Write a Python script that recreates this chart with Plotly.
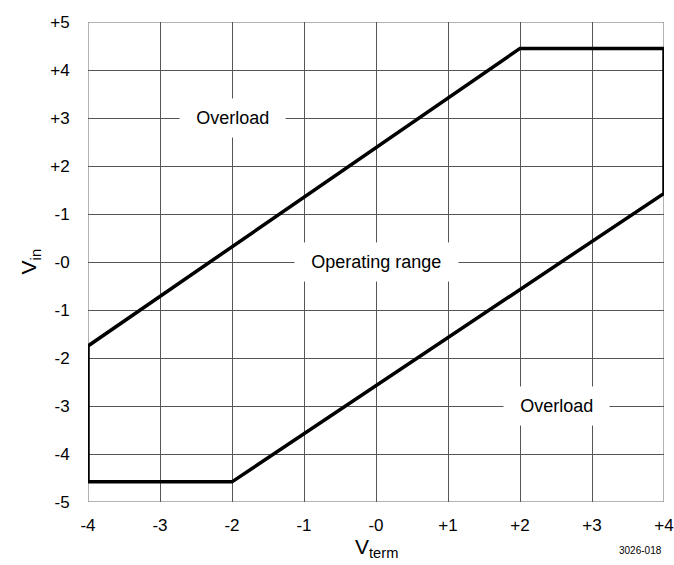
import plotly.graph_objects as go

# Operating-range boundary (V_term, V_in)
boundary_x = [-4, -4, -2, 4, 4, 2, -4]
boundary_y = [-1.75, -4.58, -4.58, 1.43, 4.45, 4.45, -1.75]

x_tickvals = [-4, -3, -2, -1, 0, 1, 2, 3, 4]
x_ticktext = ["-4", "-3", "-2", "-1", "-0", "+1", "+2", "+3", "+4"]
y_tickvals = [5, 4, 3, 2, 1, 0, -1, -2, -3, -4, -5]
y_ticktext = ["+5", "+4", "+3", "+2", "-1", "-0", "-1", "-2", "-3", "-4", "-5"]

region_labels = ["Overload", "Operating range", "Overload"]
region_x = [-2, 0, 2.5]
region_y = [3, 0, -3]

FONT = "Liberation Sans, Arial, sans-serif"

fig = go.Figure()
fig.add_trace(go.Scatter(
    x=boundary_x, y=boundary_y, mode="lines",
    line=dict(color="black", width=3.5), hoverinfo="skip", showlegend=False,
))

for t, x, y in zip(region_labels, region_x, region_y):
    fig.add_annotation(x=x, y=y, text="\u2009\u2009" + t + "\u2009\u2009", showarrow=False,
                       bgcolor="white", borderpad=9,
                       font=dict(family=FONT, size=18, color="black"))

# axis titles as annotations
fig.add_annotation(xref="paper", yref="paper", x=0.5, y=-0.065, xanchor="center", yanchor="top",
                   text="V<sub>term</sub>", showarrow=False,
                   font=dict(family=FONT, size=21, color="black"))
fig.add_annotation(xref="paper", yref="paper", x=-0.1, y=0.5, xanchor="center", yanchor="middle",
                   text="V<sub>in</sub>", showarrow=False, textangle=-90,
                   font=dict(family=FONT, size=21, color="black"))
fig.add_annotation(xref="paper", yref="paper", x=1.0, y=-0.085, xanchor="right", yanchor="top",
                   text="3026-018", showarrow=False,
                   font=dict(family=FONT, size=10, color="black"))

axis_common = dict(showgrid=True, gridcolor="#555555", gridwidth=1, zeroline=False,
                   showline=False, ticks="outside", tickcolor="rgba(0,0,0,0)",
                   automargin=False,
                   tickfont=dict(family=FONT, size=17, color="black"))

fig.update_xaxes(range=[-4, 4], tickvals=x_tickvals, ticktext=x_ticktext, ticklen=8,
                 **axis_common)
fig.update_yaxes(range=[-5, 5], tickvals=y_tickvals, ticktext=y_ticktext, ticklen=14,
                 **axis_common)

# lighter border lines
for sx0, sy0, sx1, sy1 in [(-4, -5, -4, 5), (-4, -5, 4, -5), (-4, 5, 4, 5), (4, -5, 4, 5)]:
    fig.add_shape(type="line", x0=sx0, y0=sy0, x1=sx1, y1=sy1, xref="x", yref="y",
                  line=dict(color="#9a9a9a", width=1.5), layer="below")

fig.update_layout(
    width=674, height=565,
    margin=dict(l=88, r=10, t=22, b=63, autoexpand=False),
    plot_bgcolor="white", paper_bgcolor="white",
    font=dict(family=FONT, color="black"),
)

fig.write_html("out.html", config={"displayModeBar": False},
               post_script="document.body.style.margin='0';document.body.style.overflow='hidden';")
